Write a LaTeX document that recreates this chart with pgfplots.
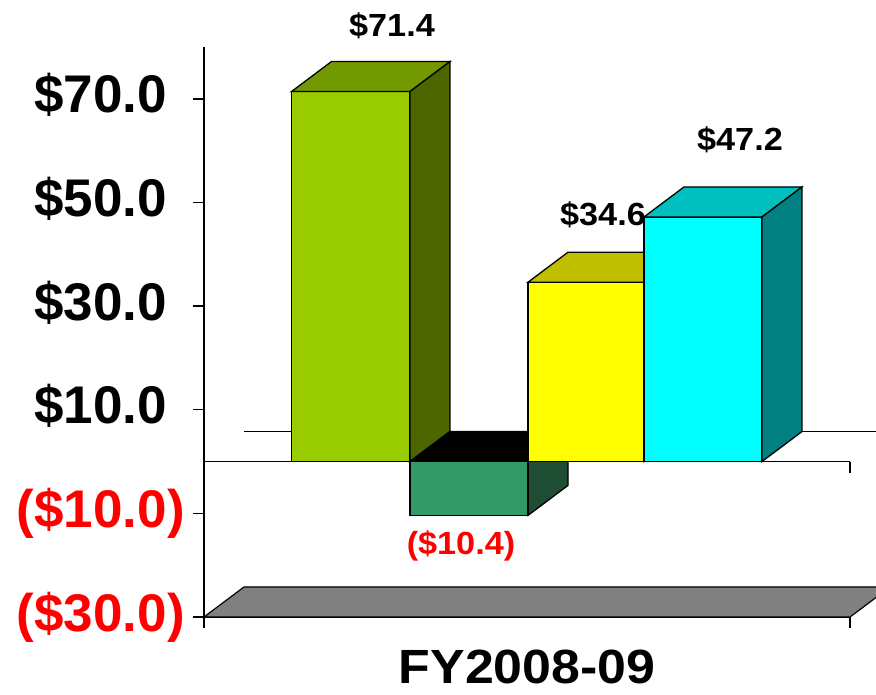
\documentclass[border=0pt]{standalone}
\usepackage{pgfplots}
\pgfplotsset{compat=1.18}
\usepackage{fontspec}
\setmainfont{Liberation Sans}
\definecolor{fA}{HTML}{99CC00}\definecolor{tA}{HTML}{739900}\definecolor{sA}{HTML}{4D6600}
\definecolor{fB}{HTML}{339966}\definecolor{sB}{HTML}{1F4D33}
\definecolor{fC}{HTML}{FFFF00}\definecolor{tC}{HTML}{BFBF00}\definecolor{sC}{HTML}{808000}
\definecolor{fD}{HTML}{00FFFF}\definecolor{tD}{HTML}{00BFBF}\definecolor{sD}{HTML}{008080}
\definecolor{floorc}{HTML}{808080}
\definecolor{negred}{HTML}{FF0000}
\begin{document}
\begin{tikzpicture}
\useasboundingbox (-204pt,-77pt) rectangle (672pt,617pt);
\clip (-204pt,-77pt) rectangle (672pt,617pt);
\begin{axis}[
  at={(0pt,0pt)}, anchor=south west,
  scale only axis, width=646pt, height=570pt,
  xmin=0, xmax=646, ymin=-30, ymax=80,
  axis lines=left, axis line style={-, line width=1.6pt},
  clip=false,
  xtick={0,646}, xticklabels={{},{}},
  ytick={-30,-10,10,30,50,70},
  yticklabels={{\textcolor{negred}{(\$30.0)}},{\textcolor{negred}{(\$10.0)}},{\$10.0\phantom{)}},{\$30.0\phantom{)}},{\$50.0\phantom{)}},{\$70.0\phantom{)}}},
  tick align=outside, major tick length=11pt,
  tick style={black, line width=1.4pt},
  yticklabel style={font=\fontsize{53}{60}\selectfont\bfseries, inner sep=0pt, xshift=-8pt},
]
% floor
\addplot[fill=floorc, draw=black, line width=1.2pt] coordinates {(0,-30) (646,-30) (686,-24.21) (40,-24.21)} -- cycle;
% back wall zero line
\addplot[black, line width=1.2pt] coordinates {(40,5.79) (720,5.79)};
% bar 1 : 71.4
\addplot[fill=fA, draw=black, line width=1.3pt] coordinates {(87.5,0) (206,0) (206,71.4) (87.5,71.4)} -- cycle;
\addplot[fill=tA, draw=black, line width=1.3pt] coordinates {(87.5,71.4) (206,71.4) (246,77.19) (127.5,77.19)} -- cycle;
\addplot[fill=sA, draw=black, line width=1.3pt] coordinates {(206,0) (246,5.79) (246,77.19) (206,71.4)} -- cycle;
% bar 2 : -10.4
\addplot[fill=black, draw=black, line width=1.3pt] coordinates {(206,0) (324,0) (364,5.79) (246,5.79)} -- cycle;
\addplot[fill=sB, draw=black, line width=1.3pt] coordinates {(324,0) (364,5.79) (364,-4.61) (324,-10.4)} -- cycle;
\addplot[fill=fB, draw=black, line width=1.3pt] coordinates {(206,0) (324,0) (324,-10.4) (206,-10.4)} -- cycle;
% bar 3 : 34.6
\addplot[fill=sC, draw=black, line width=1.3pt] coordinates {(440,0) (480,5.79) (480,40.39) (440,34.6)} -- cycle;
\addplot[fill=fC, draw=black, line width=1.3pt] coordinates {(324,0) (440,0) (440,34.6) (324,34.6)} -- cycle;
\addplot[fill=tC, draw=black, line width=1.3pt] coordinates {(324,34.6) (440,34.6) (480,40.39) (364,40.39)} -- cycle;
% bar 4 : 47.2
\addplot[fill=fD, draw=black, line width=1.3pt] coordinates {(440,0) (558,0) (558,47.2) (440,47.2)} -- cycle;
\addplot[fill=tD, draw=black, line width=1.3pt] coordinates {(440,47.2) (558,47.2) (598,52.99) (480,52.99)} -- cycle;
\addplot[fill=sD, draw=black, line width=1.3pt] coordinates {(558,0) (598,5.79) (598,52.99) (558,47.2)} -- cycle;
% zero category axis with end ticks
\addplot[black, line width=1.8pt] coordinates {(0,0) (646,0)};
\addplot[black, line width=1.4pt] coordinates {(0,0) (0,-2.12)};
\addplot[black, line width=1.4pt] coordinates {(646,0) (646,-2.12)};
% data labels
\node[font=\fontsize{32}{36}\selectfont\bfseries, xscale=1.07] at (axis cs:188,84.0) {\$71.4};
\node[font=\fontsize{32}{36}\selectfont\bfseries, xscale=1.07, text=negred] at (axis cs:257,-16.3) {(\$10.4)};
\node[font=\fontsize{32}{36}\selectfont\bfseries, xscale=1.07] at (axis cs:399,47.6) {\$34.6};
\node[font=\fontsize{32}{36}\selectfont\bfseries, xscale=1.07] at (axis cs:536,62.0) {\$47.2};
% category label
\node[font=\fontsize{48}{54}\selectfont\bfseries, xscale=1.08] at (axis cs:323,-39.7) {FY2008-09};
\end{axis}
\end{tikzpicture}
\end{document}
